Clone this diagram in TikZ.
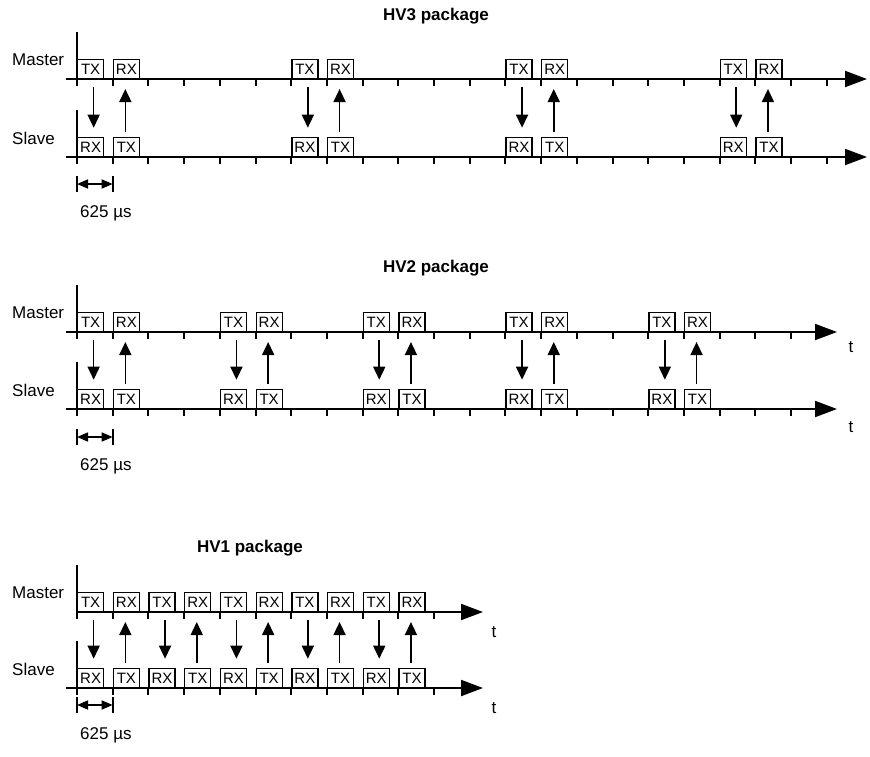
\documentclass[tikz,border=0pt]{standalone}
\usepackage{fontspec}
\setmainfont{Liberation Sans}
\usetikzlibrary{arrows.meta}

% largeur d'un slot (625 us)
\newcommand{\SlotW}{35.7}
\newcommand{\Panel}[7]%
% nom, y maitre, y esclave, slots des paires, fin d'axe, graduations, debut axe maitre
{   % axes verticaux
    \draw[timeaxis] (77,#2-47) -- (77,#2+7);
    \draw[timeaxis] (77,#3-47) -- (77,#3+7);

    % lignes de temps
    \draw[timeaxis, -{Triangle[length=22pt,width=16pt]}] (#7,#2) -- (#5,#2);
    \draw[timeaxis, -{Triangle[length=22pt,width=16pt]}] (66,#3) -- (#5,#3);
    \foreach \k in {1,...,#6}
    {   \draw[timeaxis] (77+\SlotW*\k,#2) -- ++(0,7);
        \draw[timeaxis] (77+\SlotW*\k,#3) -- ++(0,7);
    }

    \node[axislabel, anchor=west] (#1-master) at (12,#2-19) {Master};
    \node[axislabel, anchor=west] (#1-slave) at (12,#3-19) {Slave};

    % paires TX / RX
    \foreach \g in {#4}
    {   \node[window] (#1-mtx-\g) at (77+\SlotW*\g,#2) {TX};
        \node[window] (#1-mrx-\g) at (77+\SlotW*\g+\SlotW,#2) {RX};
        \node[window] (#1-srx-\g) at (77+\SlotW*\g,#3) {RX};
        \node[window] (#1-stx-\g) at (77+\SlotW*\g+\SlotW,#3) {TX};
        \draw[sig, shorten <=8pt, shorten >=9pt]
            ([xshift=3pt]#1-mtx-\g.south) -- ([xshift=3pt]#1-srx-\g.north);
        \draw[sig, shorten <=5pt, shorten >=10pt]
            ([xshift=-1pt]#1-stx-\g.north) -- ([xshift=-1pt]#1-mrx-\g.south);
    }
}
\newcommand{\SlotSpan}[3]%
% nom, y de la cote, y du texte
{   \coordinate (#1-d0) at (77,#2);
    \coordinate (#1-d1) at (77+\SlotW,#2);
    \draw[timeaxis] ([yshift=-8pt]#1-d0) -- ([yshift=8pt]#1-d0);
    \draw[timeaxis] ([yshift=-8pt]#1-d1) -- ([yshift=8pt]#1-d1);
    \draw[dimline] (#1-d0) -- (#1-d1);
    \node[axislabel, anchor=west] (#1-dur) at (80,#3) {625 µs};
}

\begin{document}
\begin{tikzpicture}
[   x=1pt, y=-1pt,
    timeaxis/.style={line width=2pt},
    window/.style={draw, line width=1.3pt, anchor=south west, inner sep=0,
        minimum width=26pt, minimum height=19pt, font=\fontsize{15}{15}\selectfont},
    sig/.style={line width=1.6pt, -{Triangle[length=13pt,width=12pt]}},
    dimline/.style={line width=1.5pt,
        {Triangle[length=11pt,width=9pt]}-{Triangle[length=11pt,width=9pt]}},
    axislabel/.style={font=\fontsize{17}{20}\selectfont, inner sep=0},
    heading/.style={font=\bfseries\fontsize{17}{20}\selectfont, inner sep=0}
]
    \useasboundingbox (0,0) rectangle (870,756);

    % HV3
    \node[heading] (hv3) at (436,16) {HV3 package};
    \Panel{hv3}{79}{157}{0,6,12,18}{867}{21}{66}
    \SlotSpan{hv3}{184}{213}

    % HV2
    \node[heading] (hv2) at (436,268) {HV2 package};
    \Panel{hv2}{332}{409}{0,4,8,12,16}{837}{20}{66}
    \SlotSpan{hv2}{437}{466}
    \node[axislabel] (hv2-tm) at (851,347) {t};
    \node[axislabel] (hv2-ts) at (851,427) {t};

    % HV1
    \node[heading] (hv1) at (250,548) {HV1 package};
    \Panel{hv1}{612}{688}{0,2,4,6,8}{483}{10}{77}
    \SlotSpan{hv1}{705}{735}
    \node[axislabel] (hv1-tm) at (494,632) {t};
    \node[axislabel] (hv1-ts) at (494,708) {t};
\end{tikzpicture}
\end{document}
